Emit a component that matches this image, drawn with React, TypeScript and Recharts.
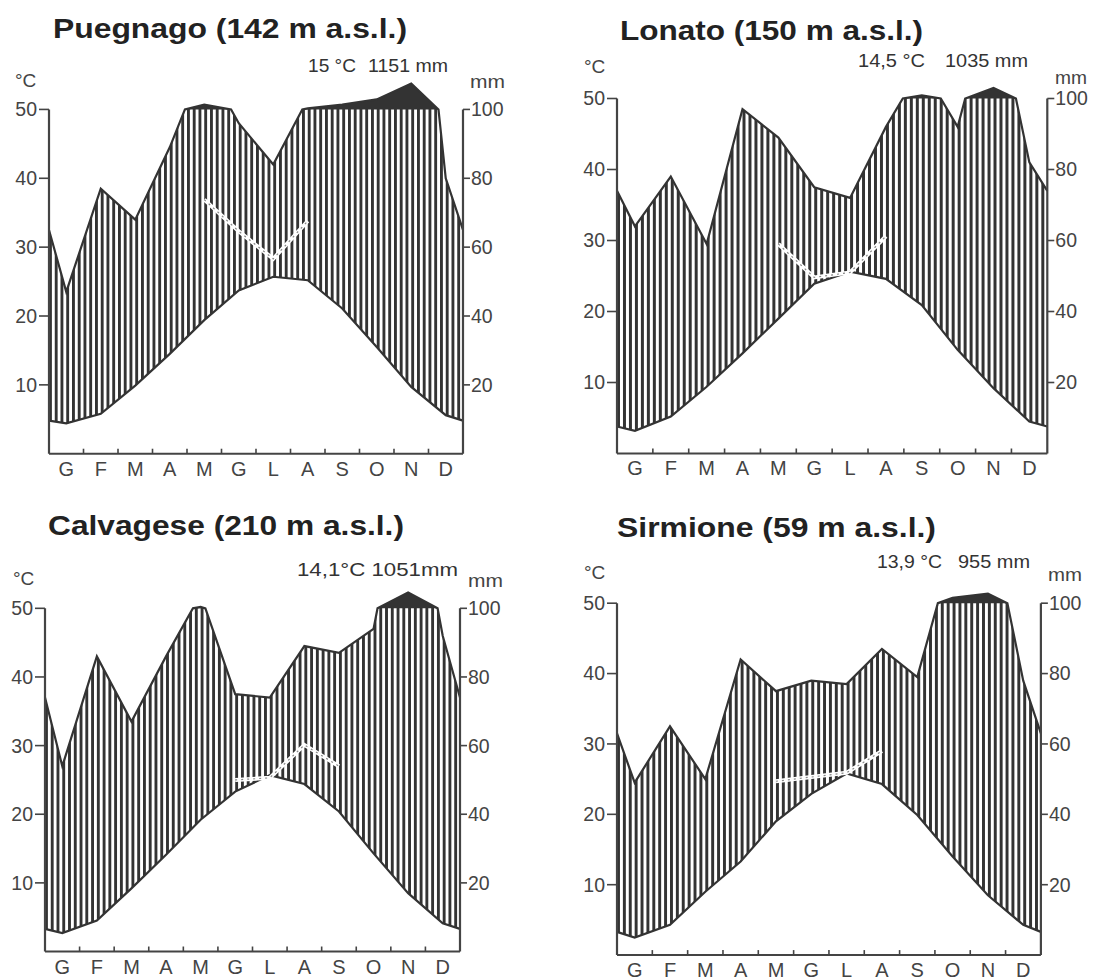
import React from 'react'
import { ComposedChart, Area, Line, XAxis, YAxis, ReferenceLine } from 'recharts'

const FONT = '"Liberation Sans", Arial, Helvetica, sans-serif'
const INK = '#333'
const AXIS = '#444'

const months = ['G', 'F', 'M', 'A', 'M', 'G', 'L', 'A', 'S', 'O', 'N', 'D']
const tempTicks = [10, 20, 30, 40, 50]
const rainTicks = [20, 40, 60, 80, 100]

// Puegnago (142 m)
const puegnagoTemp = [4.4, 5.8, 9.9, 14.5, 19.4, 23.7, 25.7, 25.2, 21.1, 15.5, 9.7, 5.6]
const puegnagoRain = [47, 77, 68, 89, 114, 96, 84, 103, 114, 129, 175, 80]
const puegnagoEdge = [4.8, 65]
const puegnagoTrend = [null, null, null, null, 36.9, 32.3, 28.3, 33.8, null, null, null, null]

// Lonato (150 m)
const lonatoTemp = [3.2, 5.2, 9.4, 14.1, 19.0, 23.9, 25.6, 24.6, 20.9, 14.6, 9.2, 4.5]
const lonatoRain = [64, 78, 59, 97, 89, 75, 72, 92, 109, 92, 130, 82]
const lonatoEdge = [3.8, 74]
const lonatoTrend = [null, null, null, null, 29.5, 24.8, 25.5, 30.6, null, null, null, null]

// Calvagese (210 m)
const calvageseTemp = [2.7, 4.5, 9.2, 14.1, 19.2, 23.3, 25.7, 24.4, 20.4, 14.3, 8.5, 4.1]
const calvageseRain = [54, 86, 67, 86, 104, 75, 74, 89, 87, 94, 146, 92]
const calvageseEdge = [3.3, 74]
const calvageseTrend = [null, null, null, null, null, 25.0, 25.3, 30.1, 27.0, null, null, null]

// Sirmione (59 m)
const sirmioneTemp = [2.5, 4.3, 9.0, 13.3, 19.0, 22.9, 25.8, 24.3, 19.9, 14.0, 8.5, 4.3]
const sirmioneRain = [49, 65, 50, 84, 75, 78, 77, 87, 79, 115, 127, 78]
const sirmioneEdge = [3.3, 63]
const sirmioneTrend = [null, null, null, null, 24.7, 25.3, 25.9, 29.0, null, null, null, null]

// Walter-Lieth: 10 °C = 20 mm up to 100 mm, 1/10 of that above
const toScale = (mm: number) => (mm <= 100 ? mm / 2 : 50 + (mm - 100) / 20)

type Row = { x: number; t: number; p: number; pm: number; w?: number | null }

function buildRows(temp: number[], rain: number[], edge: number[], trend: (number | null)[]): Row[] {
  const row = (x: number, t: number, mm: number, w: number | null): Row => ({ x, t, p: toScale(mm), pm: toScale(mm) * 2, w })
  const rows: Row[] = [row(0, edge[0], edge[1], null)]
  months.forEach((_, i) => rows.push(row(i + 0.5, temp[i], rain[i], trend[i])))
  rows.push(row(12, edge[0], edge[1], null))
  return rows
}

// linear curve that bends where the rain line passes the 100 mm level,
// since the scale is ten times tighter above it
function capCurve(yCap: number) {
  return (context: any) => {
    let line = NaN
    let n = 0
    let px = 0
    let py = 0
    return {
      areaStart() {
        line = 0
      },
      areaEnd() {
        line = NaN
      },
      lineStart() {
        n = 0
      },
      lineEnd() {
        if (line || (line !== 0 && n === 1)) context.closePath()
        line = 1 - line
      },
      point(x: number, y: number) {
        x = +x
        y = +y
        if (n === 0) {
          if (line) context.lineTo(x, y)
          else context.moveTo(x, y)
        } else {
          const lowPrev = py > yCap + 0.01
          const lowCur = y > yCap + 0.01
          const highPrev = py < yCap - 0.01
          const highCur = y < yCap - 0.01
          if ((lowPrev && highCur) || (highPrev && lowCur)) {
            const ya = lowPrev ? py : y
            const yb = lowPrev ? y : py
            const f = (ya - yCap) / (ya - yCap + 10 * (yCap - yb))
            const kx = lowPrev ? px + f * (x - px) : x + f * (px - x)
            context.lineTo(kx, yCap)
          }
          context.lineTo(x, y)
        }
        px = x
        py = y
        n++
      },
    }
  }
}

const monthTicks = Array.from({ length: 25 }, (_, i) => i / 2)

const MonthTick = (props: any) => {
  const { x, y, payload } = props
  const v = payload.value as number
  if (Number.isInteger(v)) {
    if (v === 0 || v === 12) return null
    return <line x1={x} x2={x} y1={y} y2={y - 5} stroke={AXIS} strokeWidth={1.6} />
  }
  return (
    <text x={x} y={y + 22} textAnchor="middle" fontSize={20} fill={AXIS} fontFamily={FONT}>
      {months[Math.floor(v)]}
    </text>
  )
}

interface PanelProps {
  id: string
  rows: Row[]
  x0: number
  x1: number
  y50: number
  y0: number
}

function Panel({ id, rows, x0, x1, y50, y0 }: PanelProps) {
  const LW = 60
  const RW = 60
  const XH = 40
  const TOP = 4
  const unit = (y0 - y50) / 50
  const plotH = unit * 55
  const plotW = x1 - x0
  const step = plotW / 72
  const curve: any = capCurve(TOP + (plotH * 5) / 55)
  const tickStyle = { fill: AXIS, fontSize: 19.5, fontFamily: FONT }

  return (
    <div style={{ position: 'absolute', left: x0 - LW, top: y0 - plotH - TOP }}>
      <ComposedChart
        width={LW + plotW + RW}
        height={TOP + plotH + XH}
        data={rows}
        margin={{ top: TOP, right: 0, bottom: 0, left: 0 }}
      >
        <defs>
          <pattern id={`hatch-${id}`} patternUnits="userSpaceOnUse" x={LW} y={0} width={step} height={8}>
            <rect x={0} y={0} width={step * 0.5} height={8} fill={INK} />
          </pattern>
        </defs>
        <XAxis
          type="number"
          dataKey="x"
          domain={[0, 12]}
          ticks={monthTicks}
          interval={0}
          height={XH}
          tickLine={false}
          tickSize={0}
          tickMargin={0}
          tick={<MonthTick />}
          axisLine={{ stroke: AXIS, strokeWidth: 2 }}
        />
        <YAxis
          yAxisId="t"
          type="number"
          domain={[0, 55]}
          ticks={tempTicks}
          width={LW}
          axisLine={false}
          tickSize={10}
          tickMargin={2}
          tickLine={{ stroke: AXIS, strokeWidth: 1.6 }}
          tick={tickStyle}
        />
        <YAxis
          yAxisId="mm"
          orientation="right"
          type="number"
          domain={[0, 110]}
          ticks={rainTicks}
          width={RW}
          axisLine={false}
          tickSize={7}
          tickMargin={1}
          tickLine={{ stroke: AXIS, strokeWidth: 1.6 }}
          tick={tickStyle}
        />
        <Area yAxisId="t" type={curve} dataKey="p" stroke="none" fill={INK} fillOpacity={1} isAnimationActive={false} />
        <Area yAxisId="t" type="linear" dataKey={() => 50} stroke="none" fill="#fff" fillOpacity={1} isAnimationActive={false} />
        <Area
          yAxisId="t"
          type={curve}
          dataKey={(d: Row) => [d.t, d.p]}
          stroke="none"
          fill={`url(#hatch-${id})`}
          fillOpacity={1}
          isAnimationActive={false}
        />
        <Line yAxisId="mm" type={curve} dataKey="pm" stroke={INK} strokeWidth={2.2} dot={false} isAnimationActive={false} />
        <Line yAxisId="t" type="linear" dataKey="t" stroke={INK} strokeWidth={2.2} dot={false} isAnimationActive={false} />
        <Line yAxisId="t" type="linear" dataKey="w" stroke="#fff" strokeWidth={4} dot={false} isAnimationActive={false} />
        <Line
          yAxisId="t"
          type="linear"
          dataKey="w"
          stroke="#888"
          strokeWidth={1.2}
          strokeDasharray="2 4"
          dot={false}
          isAnimationActive={false}
        />
        <ReferenceLine yAxisId="t" segment={[{ x: 0, y: 0 }, { x: 0, y: 50 }]} stroke={AXIS} strokeWidth={2.2} />
        <ReferenceLine yAxisId="t" segment={[{ x: 12, y: 0 }, { x: 12, y: 50 }]} stroke={AXIS} strokeWidth={2.2} />
      </ComposedChart>
    </div>
  )
}

const stations = [
  {
    id: 'pue',
    rows: buildRows(puegnagoTemp, puegnagoRain, puegnagoEdge, puegnagoTrend),
    x0: 49, x1: 463, y50: 109, y0: 453.3,
    title: 'Puegnago (142 m a.s.l.)', tx: 53, ty: 38, tw: 354,
    notes: [
      { s: '15 °C', x: 308, y: 72, w: 48 },
      { s: '1151 mm', x: 368, y: 72, w: 80 },
    ],
    cx: 15, cy: 87, mx: 470, my: 88, mw: 35,
  },
  {
    id: 'lon',
    rows: buildRows(lonatoTemp, lonatoRain, lonatoEdge, lonatoTrend),
    x0: 616.9, x1: 1047.2, y50: 98.3, y0: 453.3,
    title: 'Lonato (150 m a.s.l.)', tx: 620, ty: 40, tw: 303,
    notes: [
      { s: '14,5 °C', x: 858, y: 67, w: 67 },
      { s: '1035 mm', x: 945, y: 67, w: 83 },
    ],
    cx: 584, cy: 73, mx: 1055, my: 84, mw: 32,
  },
  {
    id: 'cal',
    rows: buildRows(calvageseTemp, calvageseRain, calvageseEdge, calvageseTrend),
    x0: 45, x1: 460, y50: 608.3, y0: 951.5,
    title: 'Calvagese (210 m a.s.l.)', tx: 48, ty: 535, tw: 356,
    notes: [{ s: '14,1°C 1051mm', x: 297, y: 576, w: 161 }],
    cx: 13, cy: 585, mx: 468, my: 587, mw: 35,
  },
  {
    id: 'sir',
    rows: buildRows(sirmioneTemp, sirmioneRain, sirmioneEdge, sirmioneTrend),
    x0: 616.9, x1: 1040.8, y50: 603.3, y0: 955.2,
    title: 'Sirmione (59 m a.s.l.)', tx: 617, ty: 537, tw: 319,
    notes: [
      { s: '13,9 °C', x: 877, y: 568, w: 65 },
      { s: '955 mm', x: 958, y: 568, w: 72 },
    ],
    cx: 584, cy: 579, mx: 1048, my: 581, mw: 34,
  },
]

export default function App() {
  return (
    <div style={{ position: 'absolute', left: 0, top: 0, width: 1093, height: 980, background: '#fff', overflow: 'hidden' }}>
      {stations.map((s) => (
        <Panel key={s.id} id={s.id} rows={s.rows} x0={s.x0} x1={s.x1} y50={s.y50} y0={s.y0} />
      ))}
      <svg width={1093} height={980} style={{ position: 'absolute', left: 0, top: 0, pointerEvents: 'none' }}>
        {stations.map((s) => (
          <g key={s.id} fontFamily={FONT}>
            <text x={s.tx} y={s.ty} fontSize={28} fontWeight="bold" fill="#222" textLength={s.tw} lengthAdjust="spacingAndGlyphs">
              {s.title}
            </text>
            {s.notes.map((n) => (
              <text key={n.s} x={n.x} y={n.y} fontSize={17.5} fill={INK} textLength={n.w} lengthAdjust="spacingAndGlyphs">
                {n.s}
              </text>
            ))}
            <text x={s.cx} y={s.cy} fontSize={19} fill={AXIS}>°C</text>
            <text x={s.mx} y={s.my} fontSize={19} fill={AXIS} textLength={s.mw} lengthAdjust="spacingAndGlyphs">mm</text>
          </g>
        ))}
      </svg>
    </div>
  )
}
